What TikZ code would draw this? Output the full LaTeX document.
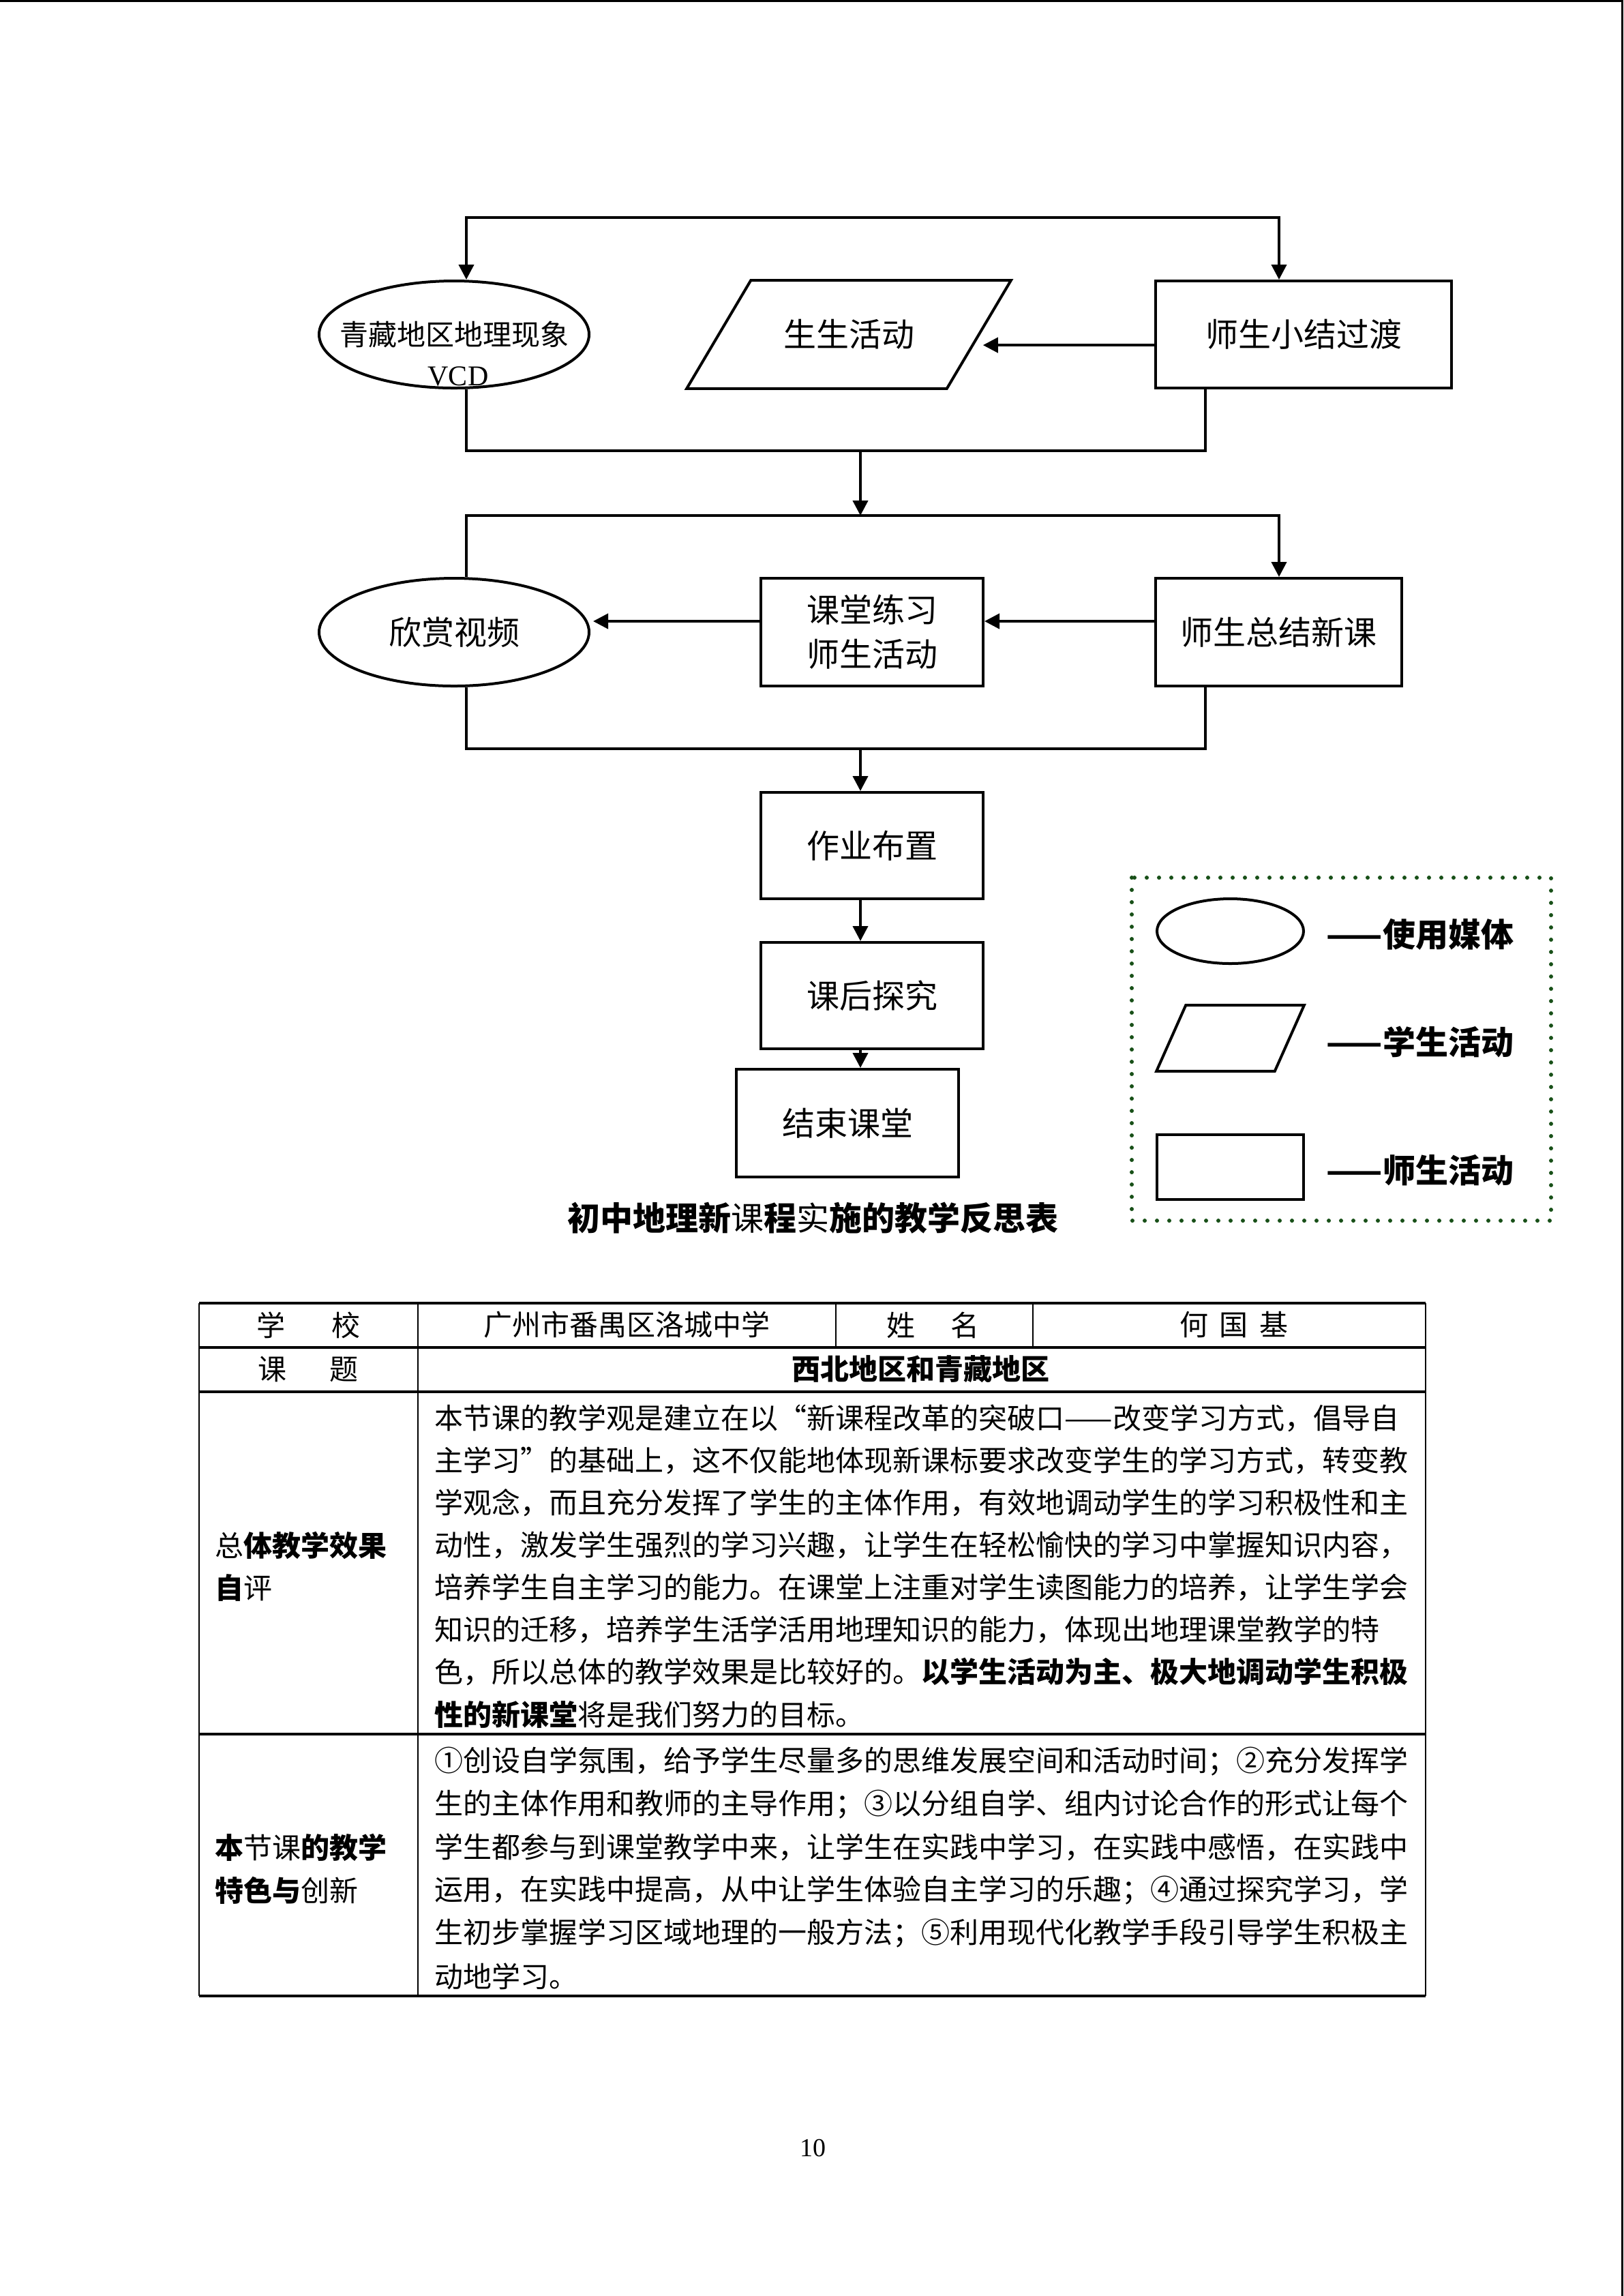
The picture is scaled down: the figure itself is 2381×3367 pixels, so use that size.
\documentclass[tikz,border=0pt]{standalone}
\usepackage{fontspec}
\setmainfont{Noto Sans CJK SC}
\newfontfamily\tnr{Liberation Serif}
\usetikzlibrary{shapes.geometric,arrows.meta,calc}
\definecolor{dkgreen}{RGB}{24,80,24}
\tikzset{
  f12/.style={font=\fontsize{12pt}{16.25pt}\selectfont},
  f105/.style={font=\fontsize{10.5pt}{15.5pt}\selectfont},
  shp/.style={draw, line width=1pt, inner sep=0pt, f12, align=center},
  boxn/.style={shp, rectangle},
  elln/.style={shp, ellipse},
  ghost/.style={inner sep=0pt, f12, align=center},
  conn/.style={line width=1pt},
  arr/.style={conn, -{Triangle[length=5.5pt,width=5.5pt]}},
  darr/.style={conn, {Triangle[length=5.5pt,width=5.5pt]}-{Triangle[length=5.5pt,width=5.5pt]}},
  txt/.style={inner sep=0pt, f105},
  legtxt/.style={inner sep=0pt, f12, font=\fontsize{12pt}{14pt}\selectfont\bfseries},
  hline/.style={line width=1pt},
  vline/.style={line width=0.5pt},
  legbox/.style={draw=dkgreen, line width=1.5pt, dash pattern=on 0pt off 4.5pt, line cap=round},
}
\begin{document}
\begin{tikzpicture}[x=0.25pt, y=-0.25pt]
\useasboundingbox (0,0) rectangle (2381,3367);
% page edge lines
\fill (0,0) rectangle (2381,3);
\fill (2378,0) rectangle (2381,3367);

% ---------- first block ----------
\node[elln, minimum width=99pt, minimum height=39.25pt] (e1) at (666,490.5) {};
\node[txt] (e1a) at (666,490) {青藏地区地理现象};
\node[txt, font=\fontsize{10.5pt}{12pt}\tnr] (e1b) at (672,552) {VCD};
\node[ghost, minimum width=118.5pt, minimum height=39.25pt] (pg) at (1245,490.5) {生生活动};
\draw[line width=1pt, line join=miter] ($(pg.north west)+(94,0)$) -- (pg.north east) -- ($(pg.south east)+(-94,0)$) -- (pg.south west) -- cycle;
\node[boxn, minimum width=108.5pt, minimum height=39.25pt] (b1) at (1912,490.5) {师生小结过渡};

\coordinate (t1L) at (684,319);
\coordinate (t1R) at (1876,319);
\coordinate (u1L) at (684,661);
\coordinate (u1R) at (1768,661);
\coordinate (m1) at (1262,661);
\draw[darr] (t1L |- e1.north) -- (t1L) -- (t1R) -- (t1R |- b1.north);
\draw[arr] ([yshift=-3.9pt]b1.west) -- ([yshift=-3.9pt, xshift=-10.25pt]pg.east);
\draw[conn] (u1L |- e1.south) -- (u1L) -- (u1R) -- (u1R |- b1.south);

% ---------- second block ----------
\coordinate (t2L) at (684,756);
\coordinate (t2R) at (1876,756);
\coordinate (u2L) at (684,1098);
\coordinate (u2R) at (1768,1098);
\coordinate (m3) at (1262,1098);
\draw[arr] (m1) -- (m1 |- t2L);
\node[elln, minimum width=99pt, minimum height=39.5pt] (e2) at (666,927) {欣赏视频};
\node[boxn, minimum width=81.5pt, minimum height=39.5pt] (b2) at (1279,927) {课堂练习\\师生活动};
\node[boxn, minimum width=90.25pt, minimum height=39.5pt] (b3) at (1875.5,927) {师生总结新课};
\draw[arr] (t2L |- e2.north) -- (t2L) -- (t2R) -- (t2R |- b3.north);
\draw[arr] ([yshift=4pt]b3.west) -- ([yshift=4pt]b2.east);
\draw[arr] ([yshift=4pt]b2.west) -- ([yshift=4pt, xshift=1pt]e2.east);
\draw[conn] (u2L |- e2.south) -- (u2L) -- (u2R) -- (u2R |- b3.south);

% ---------- chain ----------
\node[boxn, minimum width=81.5pt, minimum height=39pt] (b4) at (1279,1240) {作业布置};
\node[boxn, minimum width=81.5pt, minimum height=39pt] (b5) at (1279,1460) {课后探究};
\node[boxn, minimum width=81.5pt, minimum height=39.5pt] (b6) at (1243,1647) {结束课堂};
\draw[arr] (m3) -- (m3 |- b4.north);
\draw[arr] (m3 |- b4.south) -- (m3 |- b5.north);
\draw[arr] (m3 |- b5.south) -- (m3 |- b6.north);

% ---------- legend ----------
\draw[legbox] (1660,1287) rectangle (2275,1790);
\node[elln, minimum width=53.75pt, minimum height=23.75pt] (le) at (1804.5,1365.5) {};
\node[ghost, minimum width=53.75pt, minimum height=23.75pt] (lp) at (1804.5,1522.5) {};
\draw[line width=1pt, line join=miter] ($(lp.north west)+(43,0)$) -- (lp.north east) -- ($(lp.south east)+(-43,0)$) -- (lp.south west) -- cycle;
\node[boxn, minimum width=53.75pt, minimum height=23.75pt] (lr) at (1804.5,1711.5) {};
\node[legtxt, anchor=west] (lt1) at (1945,1370) {——使用媒体};
\node[legtxt, anchor=west] (lt2) at (1945,1528) {——学生活动};
\node[legtxt, anchor=west] (lt3) at (1945,1716) {——师生活动};

% ---------- title ----------
\node[inner sep=0pt, font=\fontsize{12pt}{14pt}\selectfont\bfseries] (title) at (1192,1786) {初中地理新{\mdseries 课}程{\mdseries 实}施的教学反思表};

% ---------- table ----------
\draw[hline] (292,1911) -- (2091,1911);
\draw[hline] (292,1976) -- (2091,1976);
\draw[hline] (292,2041) -- (2091,2041);
\draw[hline] (292,2543) -- (2091,2543);
\draw[hline] (292,2927) -- (2091,2927);
\draw[vline] (292,1911) -- (292,2927);
\draw[vline] (613,1911) -- (613,2927);
\draw[vline] (2091,1911) -- (2091,2927);
\draw[vline] (1226,1911) -- (1226,1976);
\draw[vline] (1515,1911) -- (1515,1976);

\node[txt] (c11) at (452,1943) {学\hspace{17pt}校};
\node[txt] (c12) at (919,1943) {广州市番禺区洛城中学};
\node[txt] (c13) at (1368,1943) {姓\hspace{13pt}名};
\node[txt] (c14) at (1810,1943) {何\hspace{4.25pt}国\hspace{4.25pt}基};
\node[txt] (c21) at (452,2008) {课\hspace{16pt}题};
\node[txt, font=\fontsize{10.5pt}{12pt}\selectfont\bfseries] (c22) at (1350,2008) {西北地区和青藏地区};

\node[txt, anchor=west] (r3a) at (315,2266) {总\textbf{体教学效果}};
\node[txt, anchor=west] (r3b) at (315,2328) {\textbf{自}评};
\node[txt, anchor=west] (p1) at (637,2080) {本节课的教学观是建立在以“新课程改革的突破口——改变学习方式，倡导自};
\node[txt, anchor=west] (p2) at (637,2142) {主学习”的基础上，这不仅能地体现新课标要求改变学生的学习方式，转变教};
\node[txt, anchor=west] (p3) at (637,2204) {学观念，而且充分发挥了学生的主体作用，有效地调动学生的学习积极性和主};
\node[txt, anchor=west] (p4) at (637,2266) {动性，激发学生强烈的学习兴趣，让学生在轻松愉快的学习中掌握知识内容，};
\node[txt, anchor=west] (p5) at (637,2328) {培养学生自主学习的能力。在课堂上注重对学生读图能力的培养，让学生学会};
\node[txt, anchor=west] (p6) at (637,2390) {知识的迁移，培养学生活学活用地理知识的能力，体现出地理课堂教学的特};
\node[txt, anchor=west] (p7) at (637,2452) {色，所以总体的教学效果是比较好的。\textbf{以学生活动为主、极大地调动学生积极}};
\node[txt, anchor=west] (p8) at (637,2514) {\textbf{性的新课堂}将是我们努力的目标。};

\node[txt, anchor=west] (r4a) at (315,2709) {\textbf{本}节课\textbf{的教学}};
\node[txt, anchor=west] (r4b) at (315,2772) {\textbf{特色与}创新};
\node[txt, anchor=west] (q1) at (637,2583) {①创设自学氛围，给予学生尽量多的思维发展空间和活动时间；②充分发挥学};
\node[txt, anchor=west] (q2) at (637,2646) {生的主体作用和教师的主导作用；③以分组自学、组内讨论合作的形式让每个};
\node[txt, anchor=west] (q3) at (637,2709) {学生都参与到课堂教学中来，让学生在实践中学习，在实践中感悟，在实践中};
\node[txt, anchor=west] (q4) at (637,2772) {运用，在实践中提高，从中让学生体验自主学习的乐趣；④通过探究学习，学};
\node[txt, anchor=west] (q5) at (637,2835) {生初步掌握学习区域地理的一般方法；⑤利用现代化教学手段引导学生积极主};
\node[txt, anchor=west] (q6) at (637,2898) {动地学习。};

% page number
\node[inner sep=0pt, font=\fontsize{9.5pt}{11pt}\tnr] (pn) at (1192,3150) {10};
\end{tikzpicture}
\end{document}
